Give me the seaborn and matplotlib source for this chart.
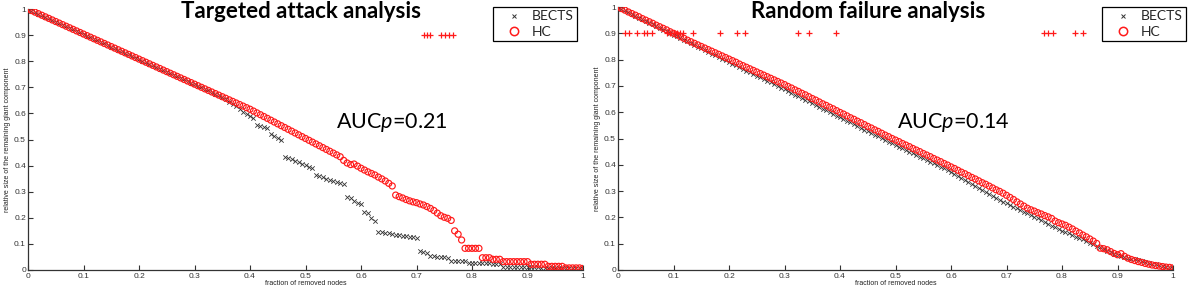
import numpy as np
import pandas as pd
import matplotlib
matplotlib.use("Agg")
import matplotlib.pyplot as plt
from matplotlib.lines import Line2D
import seaborn as sns

# ---------------- data ----------------
N_NODES = 160
removed_fraction = np.arange(N_NODES + 1) / N_NODES

hc_target = [
    1.000, 0.994, 0.988, 0.982, 0.976, 0.970, 0.964, 0.958, 0.952, 0.946,
    0.940, 0.934, 0.928, 0.922, 0.916, 0.910, 0.904, 0.898, 0.892, 0.886,
    0.880, 0.874, 0.868, 0.862, 0.856, 0.850, 0.844, 0.838, 0.832, 0.826,
    0.820, 0.814, 0.808, 0.802, 0.796, 0.790, 0.784, 0.778, 0.772, 0.766,
    0.760, 0.754, 0.748, 0.742, 0.736, 0.730, 0.724, 0.718, 0.712, 0.706,
    0.700, 0.694, 0.688, 0.682, 0.676, 0.670, 0.664, 0.658, 0.652, 0.646,
    0.640, 0.634, 0.628, 0.622, 0.616, 0.609, 0.602, 0.595, 0.588, 0.581,
    0.574, 0.567, 0.560, 0.553, 0.546, 0.539, 0.532, 0.525, 0.518, 0.511,
    0.504, 0.497, 0.490, 0.483, 0.476, 0.469, 0.462, 0.455, 0.448, 0.441,
    0.434, 0.420, 0.410, 0.404, 0.406, 0.398, 0.390, 0.383, 0.376, 0.370,
    0.364, 0.356, 0.349, 0.341, 0.332, 0.322, 0.287, 0.281, 0.276, 0.270,
    0.265, 0.261, 0.258, 0.253, 0.249, 0.243, 0.236, 0.228, 0.218, 0.208,
    0.202, 0.198, 0.190, 0.150, 0.137, 0.115, 0.083, 0.083, 0.083, 0.083,
    0.083, 0.047, 0.047, 0.047, 0.041, 0.041, 0.041, 0.032, 0.032, 0.032,
    0.032, 0.032, 0.032, 0.032, 0.032, 0.022, 0.022, 0.022, 0.022, 0.022,
    0.014, 0.014, 0.014, 0.014, 0.014, 0.008, 0.008, 0.008, 0.008, 0.008,
    0.006,
]

bects_target = [
    1.000, 0.994, 0.988, 0.982, 0.976, 0.970, 0.964, 0.958, 0.952, 0.946,
    0.940, 0.934, 0.928, 0.922, 0.916, 0.910, 0.904, 0.898, 0.892, 0.886,
    0.880, 0.874, 0.868, 0.862, 0.856, 0.850, 0.844, 0.838, 0.832, 0.826,
    0.820, 0.814, 0.808, 0.802, 0.796, 0.790, 0.784, 0.778, 0.772, 0.766,
    0.760, 0.754, 0.748, 0.742, 0.736, 0.730, 0.724, 0.718, 0.712, 0.706,
    0.700, 0.694, 0.688, 0.682, 0.676, 0.670, 0.662, 0.654, 0.645, 0.636,
    0.627, 0.616, 0.607, 0.598, 0.590, 0.582, 0.556, 0.552, 0.548, 0.544,
    0.520, 0.514, 0.506, 0.498, 0.434, 0.428, 0.424, 0.419, 0.414, 0.408,
    0.402, 0.396, 0.390, 0.364, 0.360, 0.355, 0.350, 0.346, 0.341, 0.336,
    0.332, 0.328, 0.281, 0.274, 0.266, 0.258, 0.252, 0.223, 0.220, 0.199,
    0.188, 0.147, 0.145, 0.142, 0.140, 0.138, 0.136, 0.134, 0.132, 0.130,
    0.128, 0.125, 0.121, 0.073, 0.069, 0.065, 0.054, 0.053, 0.051, 0.050,
    0.049, 0.047, 0.036, 0.036, 0.036, 0.036, 0.035, 0.028, 0.028, 0.028,
    0.028, 0.028, 0.028, 0.028, 0.022, 0.022, 0.022, 0.013, 0.013, 0.012,
    0.012, 0.012, 0.011, 0.011, 0.011, 0.010, 0.010, 0.010, 0.009, 0.009,
    0.009, 0.008, 0.008, 0.008, 0.007, 0.007, 0.007, 0.006, 0.006, 0.006,
    0.005,
]

hc_random = [
    1.000, 0.994, 0.988, 0.981, 0.975, 0.969, 0.963, 0.956, 0.950, 0.944,
    0.938, 0.931, 0.925, 0.919, 0.913, 0.906, 0.900, 0.894, 0.887, 0.881,
    0.874, 0.868, 0.862, 0.856, 0.850, 0.844, 0.838, 0.832, 0.826, 0.820,
    0.814, 0.808, 0.802, 0.796, 0.790, 0.783, 0.777, 0.771, 0.765, 0.759,
    0.753, 0.747, 0.741, 0.735, 0.729, 0.723, 0.717, 0.711, 0.705, 0.698,
    0.692, 0.685, 0.679, 0.672, 0.666, 0.659, 0.652, 0.646, 0.639, 0.632,
    0.626, 0.619, 0.613, 0.606, 0.599, 0.593, 0.586, 0.579, 0.573, 0.566,
    0.560, 0.553, 0.546, 0.540, 0.533, 0.527, 0.520, 0.513, 0.507, 0.500,
    0.494, 0.488, 0.481, 0.475, 0.469, 0.462, 0.456, 0.450, 0.443, 0.437,
    0.431, 0.424, 0.418, 0.412, 0.405, 0.399, 0.392, 0.386, 0.379, 0.372,
    0.366, 0.359, 0.352, 0.346, 0.339, 0.332, 0.326, 0.319, 0.312, 0.305,
    0.299, 0.292, 0.284, 0.276, 0.268, 0.259, 0.251, 0.243, 0.235, 0.229,
    0.224, 0.218, 0.213, 0.207, 0.202, 0.196, 0.186, 0.180, 0.175, 0.170,
    0.163, 0.156, 0.148, 0.141, 0.133, 0.126, 0.118, 0.110, 0.101, 0.083,
    0.081, 0.077, 0.070, 0.063, 0.058, 0.062, 0.052, 0.045, 0.040, 0.036,
    0.032, 0.029, 0.025, 0.022, 0.019, 0.017, 0.015, 0.013, 0.011, 0.010,
    0.008,
]

bects_random = [
    1.000, 0.993, 0.987, 0.980, 0.974, 0.967, 0.960, 0.954, 0.947, 0.941,
    0.934, 0.928, 0.921, 0.914, 0.908, 0.901, 0.895, 0.888, 0.882, 0.875,
    0.869, 0.862, 0.856, 0.849, 0.843, 0.836, 0.830, 0.823, 0.817, 0.810,
    0.804, 0.797, 0.791, 0.784, 0.778, 0.771, 0.765, 0.758, 0.752, 0.745,
    0.739, 0.732, 0.726, 0.719, 0.713, 0.706, 0.700, 0.693, 0.687, 0.680,
    0.674, 0.667, 0.661, 0.654, 0.647, 0.641, 0.634, 0.627, 0.621, 0.614,
    0.607, 0.601, 0.594, 0.587, 0.581, 0.574, 0.567, 0.561, 0.554, 0.547,
    0.541, 0.534, 0.527, 0.521, 0.514, 0.508, 0.501, 0.494, 0.488, 0.482,
    0.475, 0.469, 0.463, 0.456, 0.450, 0.443, 0.437, 0.431, 0.424, 0.418,
    0.412, 0.405, 0.399, 0.393, 0.386, 0.380, 0.372, 0.365, 0.357, 0.350,
    0.342, 0.335, 0.327, 0.320, 0.312, 0.305, 0.297, 0.290, 0.282, 0.275,
    0.267, 0.260, 0.254, 0.247, 0.241, 0.235, 0.228, 0.222, 0.216, 0.209,
    0.202, 0.196, 0.189, 0.182, 0.176, 0.169, 0.162, 0.156, 0.150, 0.145,
    0.139, 0.133, 0.127, 0.121, 0.116, 0.110, 0.104, 0.098, 0.092, 0.086,
    0.080, 0.074, 0.068, 0.062, 0.056, 0.053, 0.050, 0.046, 0.043, 0.040,
    0.037, 0.034, 0.031, 0.027, 0.024, 0.021, 0.018, 0.015, 0.012, 0.009,
    0.006,
]

# significance marks (red +) drawn at y = 0.9
sig_target_x = [0.713, 0.719, 0.725, 0.745, 0.752, 0.759, 0.766]
sig_random_x = [0.013, 0.019, 0.034, 0.047, 0.053, 0.061, 0.088, 0.094,
                0.100, 0.106, 0.112, 0.117, 0.136, 0.183, 0.215, 0.229,
                0.325, 0.345, 0.392, 0.768, 0.775, 0.784, 0.823, 0.838]
SIG_LEVEL = 0.9

titles = ["Targeted attack analysis", "Random failure analysis"]
auc_texts = [r"AUC$\mathit{p}$=0.21", r"AUC$\mathit{p}$=0.14"]
series_labels = ["BECTS", "HC"]
tick_values = [0, 0.1, 0.2, 0.3, 0.4, 0.5, 0.6, 0.7, 0.8, 0.9, 1]
tick_labels = ["0", "0.1", "0.2", "0.3", "0.4", "0.5", "0.6", "0.7", "0.8", "0.9", "1"]
x_label = "fraction of removed nodes"
y_label = "relative size of the remaining giant component"

# ---------------- styling ----------------
sns.set_theme(style="ticks")
plt.rcParams["font.family"] = ["Liberation Sans", "DejaVu Sans"]
plt.rcParams["mathtext.fontset"] = "custom"
plt.rcParams["mathtext.rm"] = "Lato"
plt.rcParams["mathtext.it"] = "Lato:italic"

W, H = 1190, 293
fig = plt.figure(figsize=(W / 100, H / 100), dpi=100)
fig.patch.set_facecolor("white")


def fx(px):
    return px / W


def fy(py):
    return 1 - py / H


panels = [
    dict(rect=[fx(28), fy(270), fx(555), (270 - 9) / H], hc=hc_target, bects=bects_target,
         sig=sig_target_x, title_x=301, auc_x=392, leg_right=577),
    dict(rect=[fx(618), fy(270), fx(555), (270 - 7) / H], hc=hc_random, bects=bects_random,
         sig=sig_random_x, title_x=868, auc_x=953, leg_right=1186),
]

for k, p in enumerate(panels):
    ax = fig.add_axes(p["rect"])
    df = pd.DataFrame({"x": removed_fraction, "bects": p["bects"], "hc": p["hc"]})
    sig_df = pd.DataFrame({"x": p["sig"], "y": [SIG_LEVEL] * len(p["sig"])})

    sns.scatterplot(data=df, x="x", y="bects", ax=ax, marker="x", color="#333333",
                    s=10, linewidth=0.6, zorder=2, legend=False)
    sns.scatterplot(data=df, x="x", y="hc", ax=ax, marker="o", facecolors="none",
                    edgecolor="#ff1a1a", s=19, linewidth=0.85, zorder=3, legend=False)
    sns.scatterplot(data=sig_df, x="x", y="y", ax=ax, marker="+", color="#ff1a1a",
                    s=14, linewidth=0.9, zorder=4, legend=False)

    ax.set_xlim(0, 1)
    ax.set_ylim(0, 1)
    ax.set_xticks(tick_values)
    ax.set_xticklabels(tick_labels)
    ax.set_yticks(tick_values)
    ax.set_yticklabels(tick_labels)
    ax.tick_params(direction="in", length=3.5, width=0.8, labelsize=6,
                   colors="#333333", pad=1.5)
    ax.tick_params(axis="x", pad=2)
    sns.despine(ax=ax)
    for s in ["left", "bottom"]:
        ax.spines[s].set_color("#333333")
        ax.spines[s].set_linewidth(0.9)
    ax.set_xlabel(x_label, fontsize=5, color="#222222", labelpad=0.5)
    ax.set_ylabel(y_label, fontsize=5, color="#222222", labelpad=2)
    ax.set_facecolor("white")

    fig.text(fx(p["title_x"]), fy(18), titles[k], ha="center", va="baseline",
             fontsize=16, fontweight="bold", family="Lato", color="black")
    fig.text(fx(p["auc_x"]), fy(128), auc_texts[k], ha="center", va="baseline",
             fontsize=15.5, family="Lato", color="black")

    handles = [
        Line2D([], [], marker="x", linestyle="none", color="#333333", markersize=3.5,
               markeredgewidth=0.7),
        Line2D([], [], marker="o", linestyle="none", markerfacecolor="none",
               markeredgecolor="#ff1a1a", markersize=6, markeredgewidth=1.1),
    ]
    leg = ax.legend(handles, series_labels, loc="upper right",
                    bbox_to_anchor=(fx(p["leg_right"]), fy(7)),
                    bbox_transform=fig.transFigure, frameon=True, fancybox=False,
                    framealpha=1, edgecolor="black", prop={"family": "Lato", "size": 10},
                    handlelength=2.4, handletextpad=0.1, borderpad=0.25,
                    labelspacing=0.25, borderaxespad=0)
    leg.get_frame().set_linewidth(0.9)

fig.savefig("out.png", dpi=100, facecolor="white")
